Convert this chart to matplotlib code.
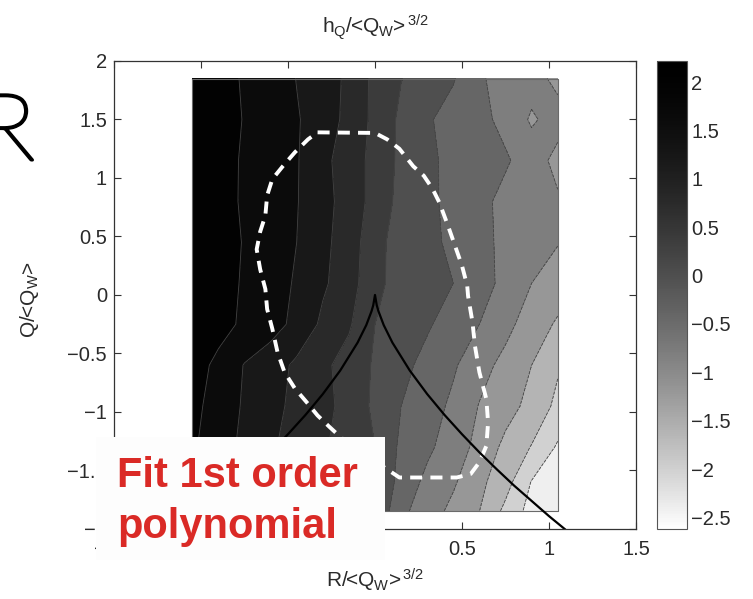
import numpy as np
import matplotlib
matplotlib.use("Agg")
from matplotlib import pyplot as plt
from matplotlib import colors as mcolors
from matplotlib import patheffects
from matplotlib.cm import ScalarMappable
from matplotlib.patches import Rectangle

plt.rcParams['font.family'] = ['Liberation Sans', 'DejaVu Sans']
plt.rcParams['mathtext.fontset'] = 'custom'
plt.rcParams['mathtext.rm'] = 'Liberation Sans'
plt.rcParams['mathtext.it'] = 'Liberation Sans:italic'
plt.rcParams['mathtext.default'] = 'regular'

# grid of the conditional mean h_Q / <Q_W>^{3/2} in the (R, Q) plane
r_nodes = [-1.05, -0.9, -0.75, -0.6, -0.45, -0.3, -0.15, 0.0, 0.15, 0.3, 0.45, 0.6, 0.75, 0.9, 1.05]
q_nodes = [1.85, 1.5, 1.15, 0.8, 0.45, 0.1, -0.25, -0.6, -0.95, -1.3, -1.6, -1.85]
h_q = [
    [2.05, 1.95, 1.76, 1.62, 1.39, 1.24, 0.90, 0.50, 0.21, 0.02, -0.17, -0.55, -0.75, -0.85, -1.10],
    [2.10, 1.98, 1.78, 1.60, 1.43, 1.22, 0.88, 0.50, 0.12, -0.15, -0.36, -0.48, -0.72, -1.05, -0.85],
    [2.08, 1.90, 1.77, 1.60, 1.43, 1.08, 0.85, 0.45, 0.12, -0.10, -0.33, -0.50, -0.55, -0.80, -1.12],
    [2.05, 1.92, 1.76, 1.62, 1.42, 1.12, 0.85, 0.45, 0.08, -0.12, -0.30, -0.48, -0.72, -0.85, -0.95],
    [2.10, 1.95, 1.78, 1.60, 1.40, 1.10, 0.80, 0.35, 0.00, -0.10, -0.28, -0.50, -0.68, -0.90, -0.98],
    [2.12, 1.95, 1.76, 1.60, 1.35, 1.06, 0.78, 0.30, 0.05, -0.06, -0.20, -0.45, -0.70, -1.00, -1.20],
    [2.10, 1.92, 1.74, 1.55, 1.30, 0.92, 0.65, 0.20, 0.02, -0.15, -0.38, -0.60, -0.88, -1.20, -1.45],
    [1.95, 1.72, 1.38, 1.20, 0.92, 0.68, 0.45, 0.15, -0.08, -0.33, -0.55, -0.85, -1.12, -1.40, -1.75],
    [1.90, 1.65, 1.35, 1.12, 0.90, 0.72, 0.46, 0.12, -0.20, -0.42, -0.68, -1.02, -1.25, -1.52, -1.90],
    [1.85, 1.60, 1.30, 1.05, 0.85, 0.65, 0.42, 0.20, -0.28, -0.52, -0.80, -1.12, -1.50, -1.82, -2.25],
    [1.80, 1.55, 1.25, 1.00, 0.80, 0.60, 0.40, 0.22, -0.35, -0.70, -0.95, -1.30, -1.65, -2.22, -2.40],
    [1.78, 1.50, 1.22, 0.98, 0.78, 0.58, 0.38, 0.15, -0.50, -0.82, -1.10, -1.40, -1.90, -2.35, -2.50],
]
levels = [-2.6, -2.2, -1.8, -1.4, -1.0, -0.6, -0.2, 0.2, 0.6, 1.0, 1.4, 1.8, 2.2]

# dashed iso-line of the joint pdf
loop_r = [-0.33, 0.0, 0.07, 0.14, 0.22, 0.28, 0.33, 0.37, 0.42, 0.46, 0.50, 0.53, 0.535, 0.56, 0.575,
          0.60, 0.64, 0.65, 0.64, 0.60, 0.55, 0.47, 0.14, 0.10, 0.0, -0.15, -0.26, -0.33, -0.385,
          -0.46, -0.52, -0.56, -0.59, -0.62, -0.63, -0.66, -0.68, -0.66, -0.63, -0.62, -0.59, -0.53,
          -0.46, -0.385, -0.33]
loop_q = [1.39, 1.385, 1.33, 1.25, 1.10, 1.02, 0.91, 0.79, 0.59, 0.42, 0.25, 0.08, -0.01, -0.23, -0.44,
          -0.66, -0.89, -1.09, -1.29, -1.43, -1.53, -1.56, -1.56, -1.52, -1.42, -1.28, -1.13, -1.03,
          -0.93, -0.80, -0.66, -0.49, -0.29, -0.12, 0.05, 0.22, 0.39, 0.54, 0.68, 0.85, 0.99, 1.10,
          1.22, 1.33, 1.39]

# Vieillefosse tails
vf_r = [-1.09, -1.0, -0.9, -0.8, -0.7, -0.6, -0.5, -0.4, -0.3, -0.2, -0.1, -0.05, -0.02, -0.01, 0.0,
        0.01, 0.02, 0.05, 0.1, 0.2, 0.3, 0.4, 0.5, 0.6, 0.7, 0.8, 0.9, 1.0, 1.09]
vf_q = [-2.0, -1.89, -1.76, -1.63, -1.49, -1.345, -1.19, -1.026, -0.847, -0.646, -0.407, -0.257, -0.139,
        -0.088, 0.0, -0.088, -0.139, -0.257, -0.407, -0.646, -0.847, -1.026, -1.19, -1.345, -1.49,
        -1.63, -1.76, -1.89, -2.0]

x_ticks = [-1.5, -1.0, -0.5, 0.0, 0.5, 1.0, 1.5]
x_labels = ['\u22121.5', '\u22121', '\u22120.5', '0', '0.5', '1', '1.5']
y_ticks = [-2.0, -1.5, -1.0, -0.5, 0.0, 0.5, 1.0, 1.5, 2.0]
y_labels = ['\u22122', '\u22121.5', '\u22121', '\u22120.5', '0', '0.5', '1', '1.5', '2']
cb_ticks = [-2.5, -2.0, -1.5, -1.0, -0.5, 0.0, 0.5, 1.0, 1.5, 2.0]
cb_labels = ['\u22122.5', '\u22122', '\u22121.5', '\u22121', '\u22120.5', '0', '0.5', '1', '1.5', '2']

# reversed gray map, darkened in the mid tones
t = np.linspace(0, 1, 256)
b = (1 - t) ** 1.5
cmap = mcolors.ListedColormap(np.column_stack([b, b, b]))
norm = mcolors.Normalize(vmin=-2.62, vmax=2.22)

fig = plt.figure(figsize=(7.53, 5.99), dpi=100)
ax = fig.add_axes([0.1514, 0.1169, 0.6932, 0.7813])
cax = fig.add_axes([0.8725, 0.1169, 0.0398, 0.7813])

R, Q = np.meshgrid(r_nodes, q_nodes)
H = np.array(h_q)
ax.contourf(R, Q, H, levels=levels, cmap=cmap, norm=norm)
ax.contour(R, Q, H, levels=levels, colors='#444444', linewidths=0.6)
ax.plot([r_nodes[0], r_nodes[-1], r_nodes[-1], r_nodes[0], r_nodes[0]],
        [q_nodes[0], q_nodes[0], q_nodes[-1], q_nodes[-1], q_nodes[0]],
        color='#6a6a6a', lw=0.8)

ax.plot(loop_r, loop_q, color='white', lw=2.8, dashes=(3.1, 2.1))
ax.plot(vf_r, vf_q, color='black', lw=1.6)

ax.set_xlim(-1.5, 1.5)
ax.set_ylim(-2, 2)
ax.set_xticks(x_ticks)
ax.set_xticklabels(x_labels)
ax.set_yticks(y_ticks)
ax.set_yticklabels(y_labels)
ax.tick_params(direction='in', top=True, right=True, length=5, width=0.8,
               color='#333333', labelcolor='#2a2a2a', labelsize=14.5)
ax.tick_params(axis='x', pad=8)
ax.tick_params(axis='y', pad=5)
for s in ax.spines.values():
    s.set_color('#333333')
    s.set_linewidth(0.9)

ax.set_xlabel(r'R/<Q$_{W}$>$^{\,3/2}$', fontsize=15, color='#2a2a2a')
ax.xaxis.set_label_coords(0.5, -0.08)
ax.set_ylabel(r'Q/<Q$_{W}$>', fontsize=15, color='#2a2a2a')
ax.yaxis.set_label_coords(-0.14, 0.49)
fig.text(0.498, 1 - 33 / 599, r'h$_{Q}$/<Q$_{W}$>$^{\,3/2}$', fontsize=15,
         color='#2a2a2a', ha='center', va='baseline')

cb = fig.colorbar(ScalarMappable(norm=norm, cmap=cmap), cax=cax, ticks=cb_ticks)
cb.set_ticklabels(cb_labels)
cax.tick_params(length=0, labelsize=14.5, labelcolor='#2a2a2a', pad=3)
cb.outline.set_edgecolor('#555555')
cb.outline.set_linewidth(0.8)

# slide overlay
fig.text(-0.027, 1 - 160 / 599, 'R', fontsize=67, family=['Lato', 'DejaVu Sans'],
         fontweight='light', color='black', va='baseline',
         path_effects=[patheffects.withStroke(linewidth=2.2, foreground='black')])
fig.add_artist(Rectangle((96 / 753, 1 - 560 / 599), 289 / 753, 123 / 599,
                         transform=fig.transFigure, facecolor='#fdfdfd', edgecolor='none', zorder=10))
fig.text(117 / 753, 1 - 487 / 599, 'Fit 1st order', fontsize=30, fontweight='bold',
         color='#da2a26', va='baseline', zorder=11)
fig.text(117 / 753, 1 - 538 / 599, 'polynomial', fontsize=30, fontweight='bold',
         color='#da2a26', va='baseline', zorder=11)

fig.savefig('out.png', dpi=100)
